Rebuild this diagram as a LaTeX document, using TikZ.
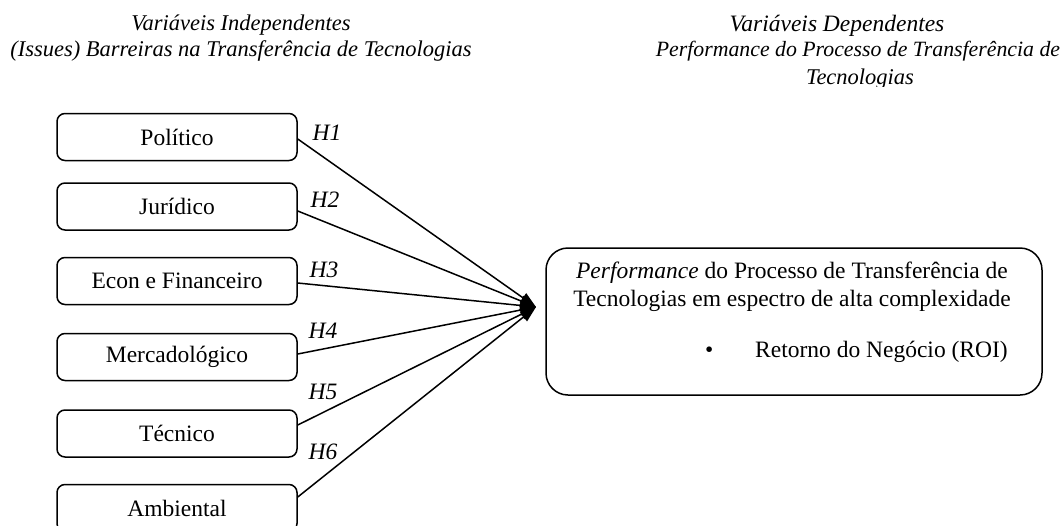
\documentclass[tikz,border=0pt]{standalone}
\usepackage{fontspec}
\setmainfont{Liberation Serif}
\usetikzlibrary{arrows.meta}
\tikzset{
  factor/.style={draw, line width=1.5pt, rounded corners=8pt, minimum width=240pt,
    minimum height=47pt, inner sep=0pt, font=\fontsize{23.5}{27}\selectfont},
  outcome/.style={draw, line width=1.5pt, rounded corners=22pt, minimum width=496pt,
    minimum height=147pt, inner sep=0pt},
  body/.style={inner sep=0pt, font=\fontsize{23.5}{27}\selectfont},
  heading/.style={inner sep=0pt, anchor=base, font=\fontsize{22.5}{27}\selectfont\itshape},
  hyp/.style={inner sep=0pt, font=\fontsize{23.5}{27}\selectfont\itshape},
  link/.style={line width=1.5pt, -{Triangle[length=16pt,width=11pt]}}
}
\begin{document}
\begin{tikzpicture}[x=1pt,y=-1pt]
\useasboundingbox (0,0) rectangle (1063,525);
\clip (0,0) rectangle (1063,525);

% column headings
\node[heading] (lh1) at (241,30) {Variáveis Independentes};
\node[heading] (lh2) at (241,56) {(Issues) Barreiras na Transferência de Tecnologias};
\begin{scope}
  \clip (560,0) rectangle (1063,86);
  \node[heading, font=\fontsize{23.5}{27}\selectfont\itshape] (rh1) at (837,31) {Variáveis Dependentes};
  \node[heading, font=\fontsize{21.8}{27}\selectfont\itshape] (rh2) at (858,56) {Performance do Processo de Transferência de};
  \node[heading] (rh3) at (860,84) {Tecnologias};
\end{scope}

% independent variables
\node[factor] (b1) at (177,137)   {Político};
\node[factor] (b2) at (177,206.5) {Jurídico};
\node[factor] (b3) at (177,281)   {Econ e Financeiro};
\node[factor] (b4) at (177,357)   {Mercadológico};
\node[factor] (b5) at (177,433.5) {Técnico};
\node[factor] (b6) at (177,508)   {Ambiental};

% dependent variable
\node[outcome] (perf) at (794,321.5) {};
\node[body, anchor=base] (pt1) at (792,278) {\textit{Performance} do Processo de Transferência de};
\node[body, anchor=base] (pt2) at (792,306) {Tecnologias em espectro de alta complexidade};
\node[body, anchor=base west] (roi) at (705,357) {\makebox[50pt][l]{•}Retorno do Negócio (ROI)};

% convergence point of the hypotheses
\coordinate (hub) at (536,307);

\draw[link] ([yshift=-2pt]b1.east)   -- (hub);
\draw[link] ([yshift=-4.5pt]b2.east) -- (hub);
\draw[link] ([yshift=-2pt]b3.east)   -- (hub);
\draw[link] ([yshift=3pt]b4.east)    -- (hub);
\draw[link] ([yshift=8.5pt]b5.east)  -- (hub);
\draw[link] ([yshift=11pt]b6.east)   -- (hub);

% hypothesis labels
\node[hyp] (h1) at (327,133) {H1};
\node[hyp] (h2) at (325,200) {H2};
\node[hyp] (h3) at (324,270) {H3};
\node[hyp] (h4) at (323,331) {H4};
\node[hyp] (h5) at (323,392) {H5};
\node[hyp] (h6) at (323,452) {H6};
\end{tikzpicture}
\end{document}
